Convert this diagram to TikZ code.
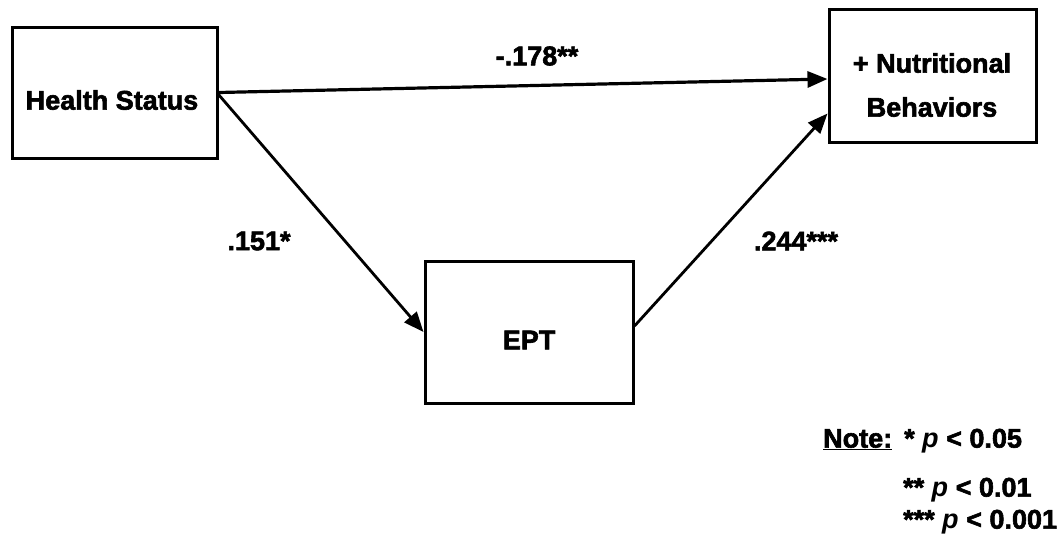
\documentclass[tikz,border=0pt]{standalone}
\usepackage{fontspec}
\setmainfont{Liberation Sans}[BoldFeatures={FakeBold=2.2}]
\usetikzlibrary{arrows.meta}
\begin{document}
\begin{tikzpicture}[x=1pt,y=-1pt,
  boxnode/.style={draw,line width=3pt,inner sep=0pt},
  txt/.style={font=\fontsize{27}{44}\selectfont\bfseries,inner sep=0pt,align=center},
  conn/.style={line width=2.8pt,-{Triangle[length=20pt,width=16pt]}},
  lbl/.style={font=\fontsize{27}{32}\selectfont\bfseries,inner sep=0pt}]
\useasboundingbox (0,0) rectangle (1062,550);
\fill[white] (0,0) rectangle (1062,550);
% boxes
\node[boxnode,minimum width=205pt,minimum height=131pt] (hs) at (114.5,92.5) {};
\node[boxnode,minimum width=207pt,minimum height=133pt] (nb) at (932.5,75.5) {};
\node[boxnode,minimum width=208pt,minimum height=142pt] (ept) at (529,332) {};
% box texts
\node[txt] (hsT) at (112,100) {Health Status};
\node[txt] (nbT) at (932,85) {+ Nutritional\\Behaviors};
\node[txt] (eptT) at (529,340) {EPT};
% connectors
\draw[conn,line width=3.2pt] (hs.east) -- ([yshift=-3.5pt]nb.west);
\draw[conn] ([yshift=-2pt]hs.east) -- (ept.west);
\draw[conn] ([yshift=6pt]ept.east) -- ([yshift=30pt]nb.south west);
% coefficients
\node[lbl] (l1) at (537,56) {-.178**};
\node[lbl] (l2) at (259,241) {.151*};
\node[lbl] (l3) at (796,241) {.244***};
% note
\node[lbl,anchor=west] (n1) at (823,441) {\underline{Note:}\hspace*{12pt}* \textit{p} < 0.05};
\node[lbl,anchor=west] (n2) at (903,490) {** \textit{p} < 0.01};
\node[lbl,anchor=west] (n3) at (903,522) {*** \textit{p} < 0.001};
\end{tikzpicture}
\end{document}
